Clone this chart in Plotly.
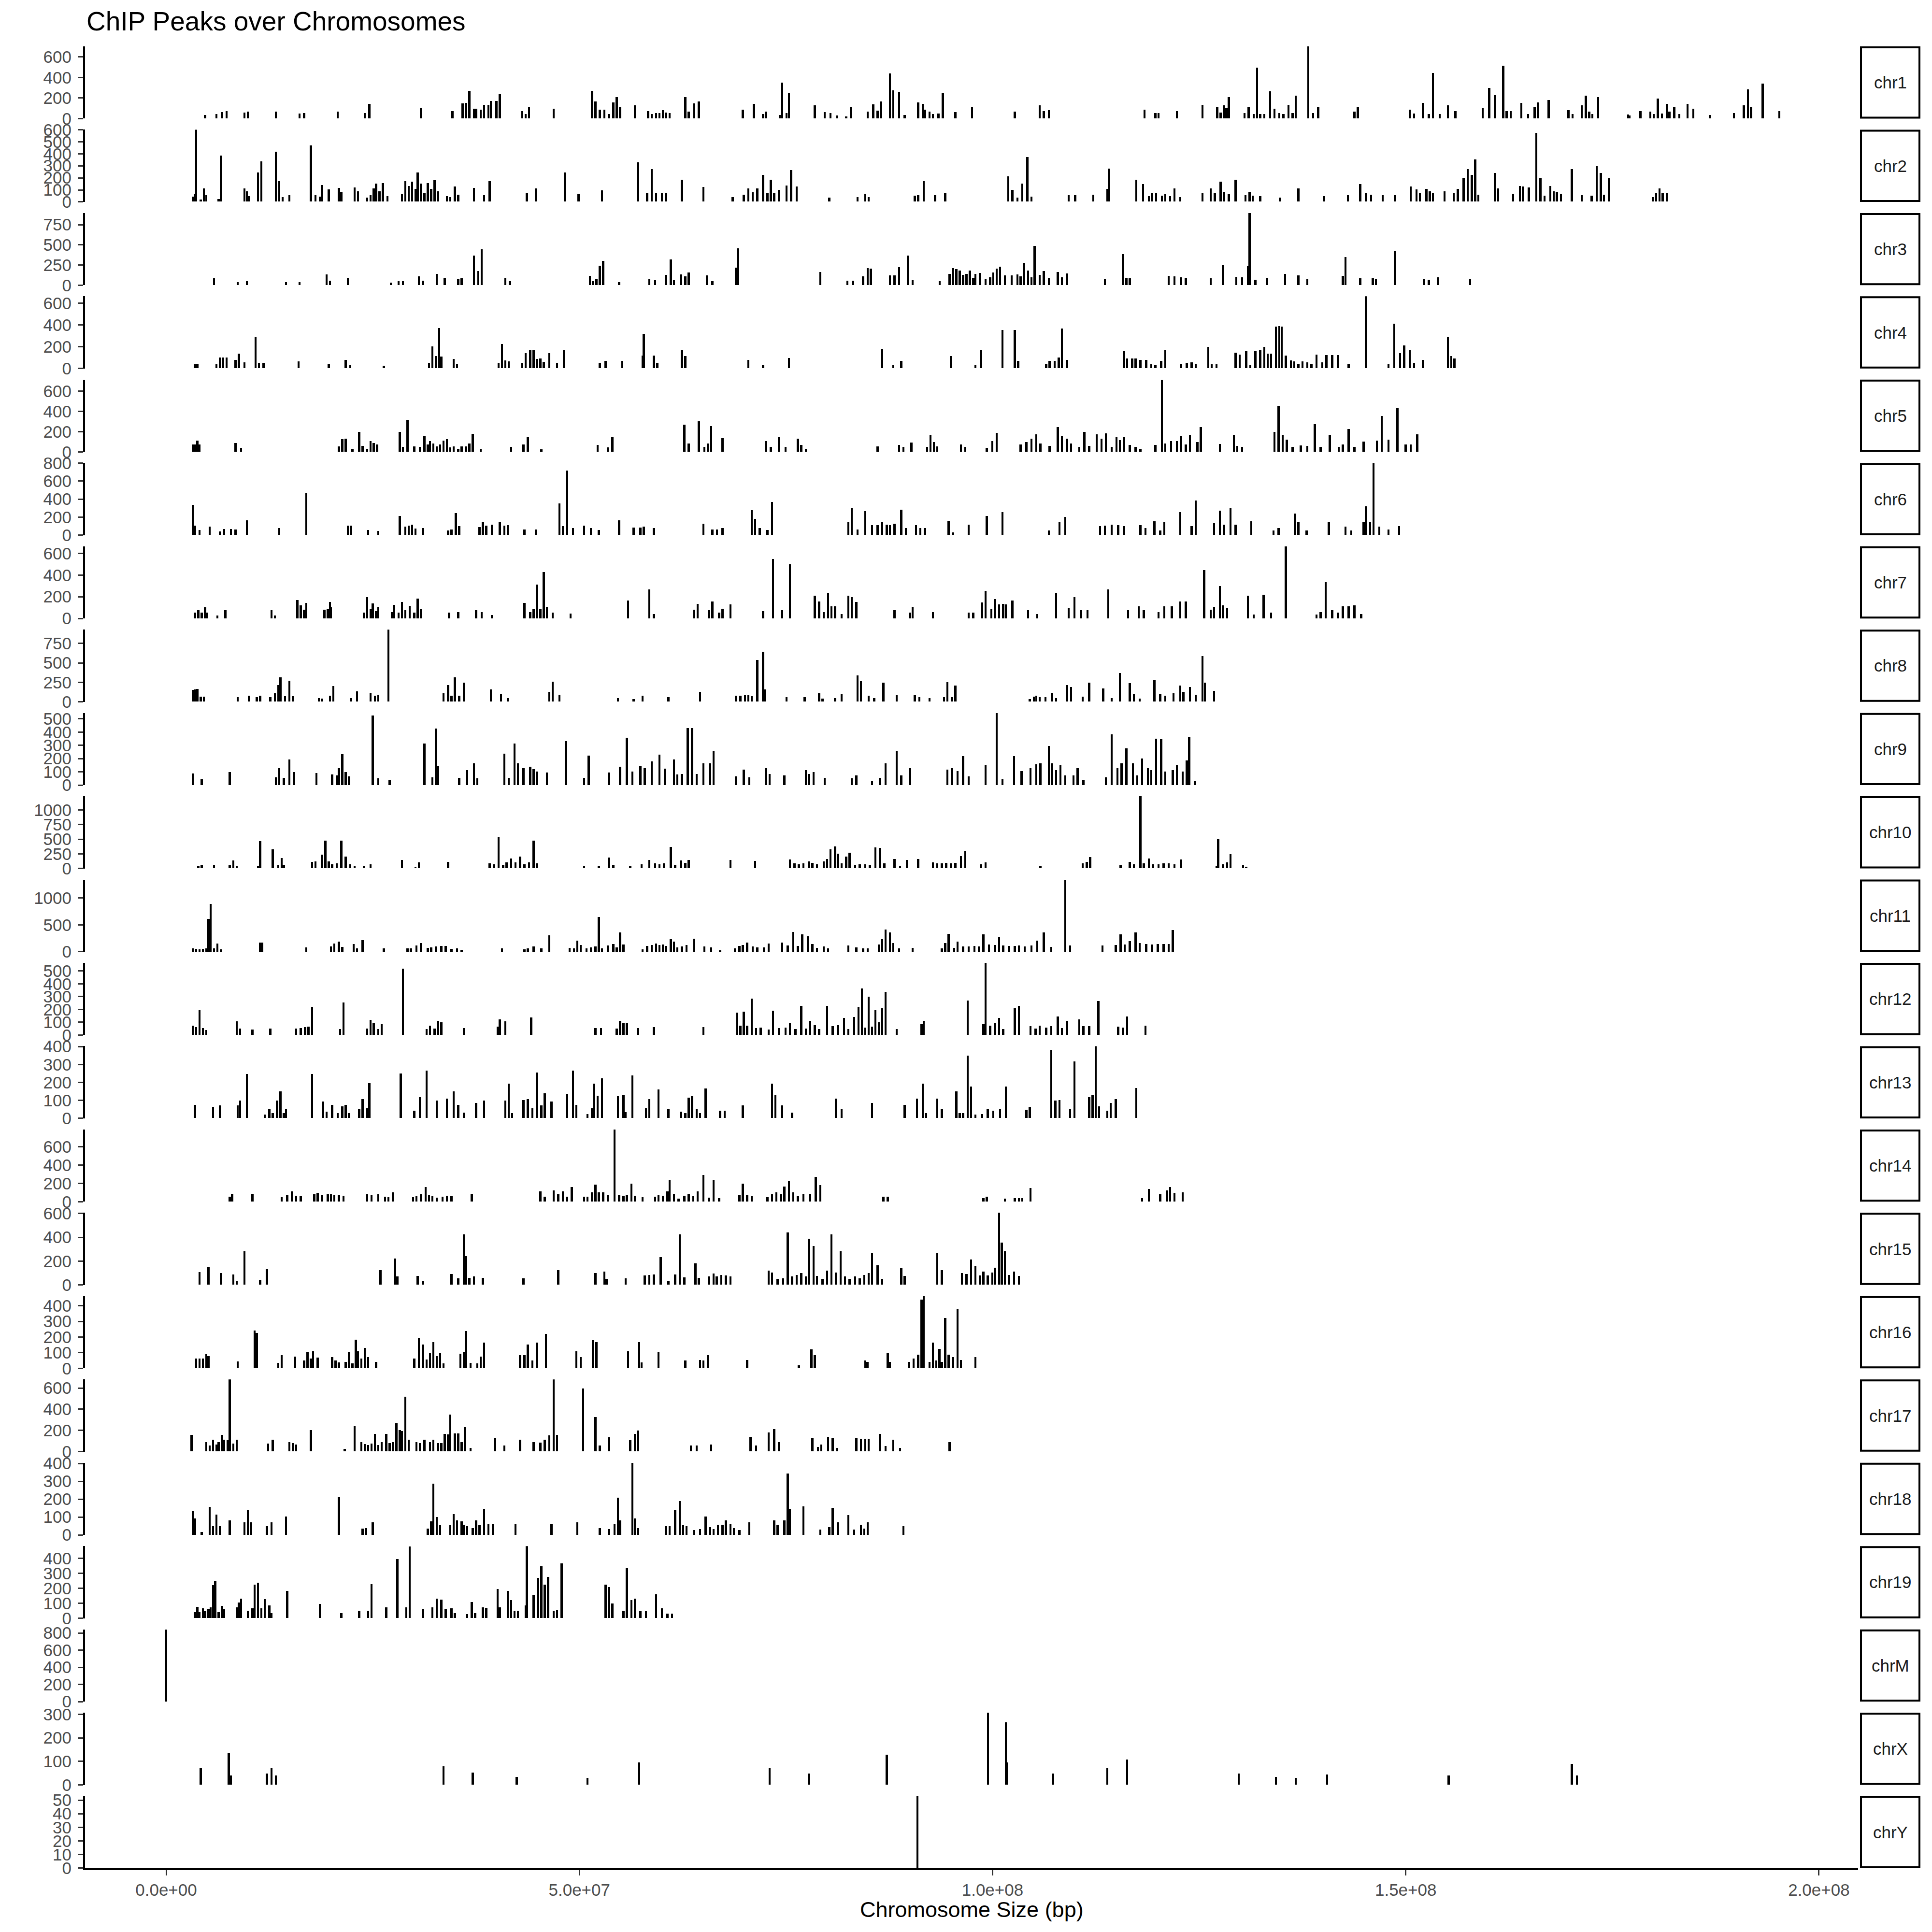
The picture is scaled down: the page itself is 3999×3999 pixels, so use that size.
import plotly.graph_objects as go

# ---------------- data (positions in Mb, peak score) ----------------
chromosomes = ["chr1", "chr2", "chr3", "chr4", "chr5", "chr6", "chr7", "chr8", "chr9", "chr10",
               "chr11", "chr12", "chr13", "chr14", "chr15", "chr16", "chr17", "chr18", "chr19",
               "chrM", "chrX", "chrY"]
y_tick_steps = [200, 100, 250, 200, 200, 200, 200, 250, 100, 250, 500, 100, 100, 200, 200, 100,
                200, 100, 100, 200, 100, 10]
x_tick_vals = [0, 5e7, 1e8, 1.5e8, 2e8]
x_tick_labels = ["0.0e+00", "5.0e+07", "1.0e+08", "1.5e+08", "2.0e+08"]

chr1_peaks = [(4.71,34),(6.07,44),(6.75,62),(7.30,73),(9.47,58),(9.88,66),(13.28,66),(16.14,47),(16.69,55),(20.77,66),(24.04,52),(24.58,144),(30.84,105),(34.65,75),(35.88,148),(36.29,155),(36.69,270),(37.24,94),(37.51,98),(38.05,86),(38.46,133),(39.01,133),(39.28,170),(39.96,170),(40.37,239),(43.09,75),(43.50,44),(43.91,112),(46.90,98),(51.53,270),(51.94,169),(52.48,86),(53.03,86),(53.57,44),(54.11,156),(54.52,208),(54.93,109),(56.70,130),(58.33,73),(58.74,44),(59.29,55),(59.69,52),(60.10,80),(60.51,58),(60.92,55),(62.82,208),(63.23,67),(63.91,148),(64.46,169),(69.77,87),(71.13,142),(72.22,44),(72.62,66),(74.26,37),(74.53,348),(75.07,52),(75.35,250),(78.48,127),(79.70,62),(80.38,52),(81.20,31),(82.29,23),(82.83,112),(84.88,66),(85.55,139),(86.10,76),(86.51,169),(87.59,440),(88.00,275),(88.68,261),(89.36,34),(91.00,158),(91.54,142),(91.81,86),(92.36,70),(92.77,44),(93.45,50),(93.99,251),(95.49,64),(97.53,109),(102.7,67),(105.7,130),(106.2,75),(106.8,81),(118.4,89),(119.7,55),(120.1,55),(122.3,75),(125.4,133),(127.2,117),(127.6,59),(128.0,127),(128.3,103),(128.6,208),(130.5,52),(131.0,112),(131.6,44),(132.0,497),(132.4,44),(132.9,44),(133.6,267),(134.1,94),(134.7,52),(135.2,44),(135.8,133),(136.3,52),(136.7,222),(138.2,703),(138.8,52),(139.4,114),(143.8,66),(144.2,112),(150.5,87),(151.0,48),(152.1,151),(152.8,44),(153.3,445),(154.1,44),(155.1,127),(156.0,75),(159.3,101),(160.1,297),(160.8,229),(161.8,516),(162.2,73),(162.7,73),(164.0,151),(164.8,44),(165.6,111),(166.0,158),(167.3,179),(169.7,80),(170.2,44),(171.3,127),(171.8,223),(172.2,67),(172.6,44),(173.3,208),(176.9,39),(177.1,31),(178.4,75),(179.6,66),(180.0,44),(180.5,195),(181.0,48),(181.6,145),(181.9,66),(182.5,114),(183.1,44),(184.1,142),(184.8,95),(186.8,33),(189.7,55),(190.9,127),(191.4,286),(191.8,112),(193.2,341),(195.2,73)]

chr2_peaks = [(3.21,40),(3.48,65),(3.62,600),(4.17,19),(4.57,112),(4.85,55),(6.34,21),(6.62,383),(9.47,112),(9.75,85),(10.02,48),(11.11,241),(11.51,334),(13.28,414),(13.69,172),(14.10,36),(14.92,56),(17.50,469),(18.05,56),(18.59,43),(18.86,139),(19.68,102),(20.91,115),(21.18,83),(22.81,118),(23.22,88),(24.31,35),(24.72,55),(25.12,112),(25.40,152),(25.81,85),(26.21,155),(26.76,45),(28.53,67),(28.94,172),(29.34,132),(29.75,166),(30.16,105),(30.43,241),(30.84,152),(31.25,72),(31.66,155),(32.07,105),(32.47,178),(32.88,88),(33.97,48),(34.38,37),(34.92,128),(35.33,59),(37.24,115),(38.46,56),(39.14,172),(43.63,76),(44.72,112),(48.26,241),(49.90,65),(52.75,96),(57.11,327),(58.20,76),(58.74,272),(59.29,72),(59.97,76),(60.51,72),(62.42,184),(65.00,122),(68.54,36),(69.90,59),(70.45,110),(70.99,79),(71.53,112),(72.22,224),(72.76,72),(73.17,182),(73.58,75),(74.12,99),(75.07,136),(75.62,264),(76.30,128),(80.25,32),(83.65,36),(84.60,65),(85.01,39),(90.59,52),(91.00,55),(91.68,172),(93.04,56),(94.27,76),(101.9,212),(102.4,99),(103.0,35),(103.6,152),(104.2,371),(104.7,43),(109.2,56),(110.0,56),(112.2,59),(113.9,108),(114.1,275),(117.4,183),(118.2,148),(118.9,45),(119.3,76),(119.8,76),(120.5,52),(120.9,63),(121.5,45),(122.0,112),(122.7,39),(125.4,75),(126.4,112),(126.9,76),(127.6,168),(128.0,83),(128.6,61),(129.4,183),(130.6,56),(131.1,83),(131.5,52),(132.4,45),(134.8,35),(137.0,112),(140.1,45),(143.0,56),(144.5,146),(145.2,75),(145.8,59),(147.2,56),(148.7,56),(150.6,126),(151.3,104),(151.7,72),(152.5,107),(152.9,85),(153.3,75),(154.7,85),(155.8,75),(156.3,107),(157.0,199),(157.5,272),(158.0,224),(158.4,353),(158.8,59),(160.8,238),(161.2,112),(163.0,65),(163.8,132),(164.2,128),(164.9,120),(165.8,573),(166.3,199),(166.8,52),(167.5,131),(167.9,85),(168.3,83),(168.8,65),(170.1,272),(171.3,56),(172.5,52),(173.1,296),(173.6,240),(174.0,59),(174.6,195),(179.9,37),(180.3,75),(180.7,112),(181.1,75),(181.6,75)]

chr3_peaks = [(5.80,86),(8.66,36),(9.75,50),(14.51,36),(16.14,36),(19.41,137),(19.82,58),(21.99,90),(27.17,30),(28.12,52),(28.66,52),(30.57,109),(31.11,58),(32.75,141),(33.70,90),(35.33,82),(35.74,88),(37.24,370),(37.78,175),(38.19,446),(41.05,93),(41.59,52),(51.26,115),(51.66,52),(52.07,78),(52.48,240),(52.89,300),(54.80,38),(58.47,82),(59.15,62),(60.51,131),(61.06,320),(61.46,62),(62.28,137),(62.82,111),(63.23,161),(65.41,121),(66.09,52),(68.95,217),(69.22,456),(79.16,165),(82.42,54),(83.11,54),(84.33,109),(84.88,210),(85.28,205),(87.59,125),(88.14,121),(88.68,224),(89.77,370),(90.32,62),(93.59,50),(94.81,141),(95.22,210),(95.63,200),(96.03,181),(96.44,131),(96.85,141),(97.26,181),(97.67,91),(97.94,141),(98.48,151),(99.16,82),(99.71,97),(100.1,161),(100.5,205),(100.9,229),(101.5,125),(102.3,121),(103.0,135),(103.4,113),(103.8,276),(104.3,181),(104.7,101),(105.1,485),(105.7,129),(106.2,177),(106.8,91),(107.9,165),(108.4,101),(109.0,145),(113.6,78),(115.8,384),(116.2,91),(116.6,85),(121.3,117),(122.0,109),(122.8,97),(123.4,93),(126.4,89),(127.9,257),(129.5,105),(130.2,101),(130.9,237),(131.1,895),(131.8,66),(133.2,91),(135.4,141),(137.0,121),(138.1,72),(142.4,117),(142.7,350),(144.5,89),(146.0,89),(146.4,78),(148.7,428),(152.2,82),(152.8,70),(153.9,101),(157.8,78)]

chr4_peaks = [(3.48,39),(3.76,44),(6.07,37),(6.48,101),(6.89,101),(7.30,101),(8.38,76),(8.79,135),(9.47,56),(10.83,289),(11.24,53),(11.79,53),(16.01,64),(19.68,41),(21.72,76),(22.27,33),(26.35,24),(31.79,53),(32.20,204),(32.61,113),(33.02,370),(33.29,108),(34.79,86),(35.20,41),(40.23,53),(40.64,224),(41.05,71),(41.46,64),(43.09,53),(43.50,141),(44.04,167),(44.45,167),(44.86,86),(45.27,89),(45.68,59),(46.36,141),(47.31,53),(48.13,167),(52.48,53),(53.16,68),(55.20,67),(57.65,116),(57.79,319),(59.01,116),(59.42,53),(62.42,167),(62.82,113),(70.45,76),(72.22,34),(75.35,96),(86.64,179),(88.00,31),(88.96,68),(94.94,111),(97.94,30),(98.62,172),(101.2,354),(102.7,354),(103.1,67),(106.5,41),(106.9,67),(107.5,67),(108.0,101),(108.4,367),(109.0,76),(115.9,160),(116.3,89),(116.9,89),(117.3,89),(117.9,76),(118.6,76),(119.2,39),(119.7,28),(120.4,68),(120.9,170),(122.8,41),(123.5,53),(124.1,56),(124.6,41),(126.1,197),(126.5,36),(127.1,39),(129.4,142),(129.9,127),(130.7,157),(131.2,34),(131.8,156),(132.4,167),(132.9,197),(133.3,135),(133.7,135),(134.3,385),(134.7,390),(135.0,385),(135.5,116),(136.1,71),(136.5,64),(137.0,44),(137.5,64),(138.1,56),(138.6,44),(139.2,127),(139.9,56),(140.4,121),(141.1,124),(141.8,121),(143.1,44),(145.2,664),(147.9,44),(148.6,409),(149.3,138),(149.8,212),(150.5,167),(151.0,53),(152.1,76),(155.1,289),(155.5,113),(155.9,89)]

chr5_peaks = [(3.21,76),(3.48,76),(3.76,113),(4.03,76),(8.38,89),(9.07,38),(20.91,54),(21.31,128),(21.72,133),(22.54,33),(23.36,200),(23.76,60),(24.31,29),(24.72,105),(25.12,89),(25.53,76),(28.26,200),(28.66,49),(29.21,319),(30.02,57),(30.70,49),(31.25,155),(31.66,73),(31.93,105),(32.34,81),(32.75,54),(33.15,73),(33.56,113),(33.97,128),(34.38,44),(34.79,57),(35.33,33),(35.74,54),(36.29,57),(36.69,81),(37.10,181),(38.05,33),(41.73,49),(43.23,76),(43.77,143),(45.40,25),(52.21,68),(53.43,44),(53.98,143),(62.69,271),(63.23,81),(64.46,303),(65.14,49),(65.55,81),(65.95,256),(67.31,137),(72.62,108),(73.17,49),(74.12,143),(74.94,49),(76.43,129),(76.84,70),(77.39,33),(86.10,54),(88.68,68),(89.23,49),(90.18,92),(92.09,49),(92.49,169),(92.90,97),(93.31,54),(96.17,76),(96.71,49),(99.30,41),(99.98,108),(100.5,187),(103.4,76),(104.1,97),(104.7,129),(105.3,176),(105.8,81),(106.9,60),(107.9,244),(108.4,155),(109.0,129),(109.5,81),(110.5,49),(111.1,200),(111.7,60),(112.6,173),(113.2,133),(113.7,184),(114.4,49),(115.0,149),(115.4,119),(115.9,143),(116.6,70),(117.3,49),(117.9,33),(119.7,70),(120.5,713),(120.9,81),(121.6,105),(122.3,105),(122.8,155),(123.4,73),(123.9,168),(124.8,97),(125.2,244),(127.5,78),(129.2,168),(129.6,60),(130.2,49),(134.1,200),(134.6,454),(135.1,171),(135.6,121),(136.3,49),(137.3,65),(138.1,60),(139.0,274),(139.7,49),(140.8,168),(141.9,49),(142.4,76),(143.1,228),(143.8,49),(144.9,102),(146.5,113),(147.1,355),(147.9,121),(149.0,435),(150.0,76),(150.6,76),(151.4,176)]

chr6_peaks = [(3.21,334),(3.48,103),(4.03,55),(5.25,91),(6.48,41),(7.02,68),(7.84,68),(8.38,59),(9.75,165),(13.69,80),(16.96,469),(21.99,103),(22.40,103),(24.44,55),(25.67,44),(28.26,213),(28.94,91),(29.34,103),(29.75,116),(30.16,73),(31.11,80),(34.11,50),(34.52,62),(35.06,242),(35.47,98),(37.92,87),(38.33,139),(38.73,103),(39.42,116),(40.37,144),(40.91,103),(41.32,112),(43.36,59),(44.72,59),(47.58,352),(47.99,98),(48.53,713),(49.21,76),(50.58,103),(51.39,76),(52.35,55),(54.80,165),(56.56,85),(57.38,85),(57.79,91),(59.01,76),(65.00,126),(66.09,59),(66.64,59),(67.31,76),(70.85,276),(71.26,180),(71.81,76),(72.76,55),(73.30,365),(82.56,148),(82.97,299),(83.65,59),(84.60,263),(85.42,112),(86.10,112),(86.64,139),(87.19,116),(87.59,108),(88.14,126),(88.96,281),(89.50,76),(90.73,112),(91.27,76),(91.81,76),(94.67,156),(95.22,27),(97.12,116),(99.30,213),(101.2,254),(106.8,50),(108.1,144),(108.8,201),(113.0,98),(113.6,103),(114.4,116),(115.2,112),(115.9,98),(117.9,108),(118.5,76),(119.6,151),(120.3,50),(120.8,144),(122.7,254),(124.1,98),(124.6,381),(126.8,130),(127.5,268),(128.0,116),(128.8,299),(129.4,116),(131.3,151),(134.0,50),(134.6,76),(136.6,240),(137.0,139),(138.0,50),(140.7,142),(142.7,94),(143.4,50),(144.9,139),(145.2,318),(145.7,148),(146.1,800),(146.8,94),(147.9,59),(149.2,98)]

chr7_peaks = [(3.48,55),(3.89,77),(4.30,55),(4.71,104),(4.98,55),(6.21,30),(7.16,77),(12.74,77),(13.15,30),(15.87,172),(16.28,122),(16.69,80),(16.96,144),(19.14,84),(19.55,87),(19.82,153),(19.95,104),(23.90,55),(24.31,197),(24.72,87),(24.99,141),(25.40,70),(25.67,110),(27.30,62),(27.57,126),(28.12,55),(28.53,153),(28.94,77),(29.48,119),(30.02,55),(30.43,185),(30.84,87),(34.24,55),(35.33,62),(37.51,77),(38.19,62),(39.42,33),(43.36,144),(44.04,62),(44.45,87),(44.86,314),(45.27,87),(45.68,430),(46.08,107),(46.76,55),(48.94,47),(55.88,166),(58.47,270),(59.01,40),(63.91,84),(64.32,136),(65.68,77),(66.09,156),(66.91,55),(67.31,89),(68.27,129),(72.22,70),(73.44,548),(74.53,77),(75.48,499),(78.48,210),(79.02,156),(79.57,62),(80.11,237),(80.52,114),(80.93,114),(81.74,44),(82.56,210),(82.97,196),(83.51,153),(88.14,77),(90.04,55),(90.32,110),(92.77,58),(97.12,55),(97.67,55),(98.75,151),(99.16,255),(99.84,92),(100.3,178),(100.8,129),(101.3,136),(101.6,129),(102.4,166),(104.3,77),(105.4,40),(107.7,240),(109.2,99),(109.9,196),(110.7,77),(111.5,77),(114.0,270),(116.4,77),(117.7,114),(118.3,77),(120.1,62),(120.8,114),(121.7,114),(122.7,157),(123.4,157),(125.6,445),(126.4,84),(126.8,107),(127.5,299),(127.9,124),(128.4,99),(130.9,210),(131.6,36),(132.8,221),(133.7,55),(135.5,665),(139.2,36),(139.7,58),(140.3,336),(141.1,77),(141.8,55),(142.4,114),(143.1,114),(143.8,121),(144.6,40)]

chr8_peaks = [(3.21,151),(3.48,161),(3.76,165),(4.17,68),(4.57,68),(8.66,58),(10.02,79),(10.97,58),(11.38,79),(12.60,58),(13.15,110),(13.56,213),(13.83,316),(14.37,74),(14.92,269),(15.33,72),(18.46,47),(18.86,41),(19.82,79),(20.23,202),(22.40,47),(23.08,136),(24.72,114),(25.26,79),(25.67,89),(26.89,928),(33.56,110),(34.11,213),(34.52,79),(34.92,316),(35.47,79),(36.01,244),(39.28,157),(40.51,103),(41.32,47),(46.36,130),(46.76,258),(47.58,89),(54.66,47),(56.56,37),(57.65,79),(60.78,58),(64.59,130),(68.95,79),(69.49,79),(70.04,83),(70.45,83),(70.85,74),(71.53,539),(72.22,643),(72.49,161),(75.07,58),(77.25,58),(79.02,110),(79.43,41),(80.93,47),(81.74,103),(83.65,337),(84.06,265),(85.01,79),(85.69,47),(86.78,244),(88.41,83),(90.59,83),(91.13,58),(92.36,47),(94.13,58),(94.54,254),(95.08,58),(95.49,207),(104.5,37),(105.0,68),(105.3,79),(105.7,58),(106.4,58),(107.2,116),(107.7,47),(109.0,213),(109.5,192),(110.9,68),(111.7,244),(113.4,171),(114.4,47),(115.4,367),(116.6,238),(117.1,99),(117.8,41),(119.6,275),(120.3,99),(120.9,79),(121.9,110),(122.7,207),(123.1,130),(123.9,192),(124.6,89),(125.4,589),(125.7,244),(126.8,141)]

chr9_peaks = [(3.21,89),(4.30,46),(7.70,100),(13.28,61),(13.69,128),(14.24,55),(14.92,195),(15.46,101),(18.18,93),(20.09,83),(20.63,73),(20.91,128),(21.31,235),(21.72,99),(22.13,67),(24.99,528),(25.67,52),(27.03,43),(31.25,316),(32.20,61),(32.61,428),(32.88,146),(35.47,55),(36.42,116),(37.24,164),(37.65,52),(40.91,237),(41.46,55),(42.14,316),(42.55,164),(43.23,128),(44.04,140),(44.45,122),(44.86,104),(46.08,97),(48.40,332),(50.58,55),(51.12,225),(53.57,97),(54.93,140),(55.75,359),(56.43,104),(57.38,146),(57.92,128),(58.74,179),(59.69,231),(60.37,125),(61.46,195),(61.87,82),(62.42,85),(63.10,432),(63.64,432),(64.19,85),(65.00,164),(65.82,164),(66.23,261),(68.95,67),(69.90,118),(70.58,61),(72.62,130),(73.03,85),(74.80,73),(77.39,113),(77.80,85),(78.34,101),(79.70,55),(82.97,52),(83.51,73),(85.42,30),(86.37,55),(87.05,166),(88.41,261),(88.96,73),(90.04,128),(94.54,118),(95.08,128),(95.76,109),(96.44,222),(97.12,67),(99.16,152),(100.5,545),(101.2,45),(102.6,219),(103.5,109),(104.6,128),(105.3,158),(105.8,164),(106.8,298),(107.2,164),(107.7,116),(108.2,152),(108.8,73),(109.8,73),(110.3,128),(111.0,43),(113.7,61),(114.4,383),(115.1,128),(115.6,164),(116.2,280),(117.0,164),(117.5,73),(118.1,201),(118.8,128),(119.2,116),(119.8,353),(120.4,347),(120.9,103),(121.8,116),(122.3,152),(123.0,103),(123.5,188),(123.8,365),(124.5,30)]

chr10_peaks = [(3.89,47),(4.30,61),(5.80,61),(7.70,55),(8.11,138),(8.52,47),(11.11,47),(11.38,470),(12.88,323),(13.56,61),(13.96,177),(14.24,61),(17.64,108),(18.05,116),(18.86,235),(19.27,475),(19.68,116),(20.09,66),(20.63,88),(21.18,475),(21.72,199),(22.27,74),(22.81,39),(23.90,39),(24.72,69),(28.53,143),(30.16,19),(30.57,102),(34.11,108),(39.14,88),(39.69,66),(40.23,530),(40.78,61),(41.18,102),(41.73,171),(42.27,102),(42.82,204),(43.36,74),(43.91,102),(44.45,475),(44.86,88),(50.58,39),(52.35,33),(53.57,185),(54.11,61),(56.16,47),(57.52,74),(58.47,143),(59.15,83),(59.69,74),(60.24,88),(61.06,365),(61.60,61),(62.28,138),(62.82,94),(63.23,143),(68.27,143),(71.26,130),(75.48,149),(76.03,88),(76.57,74),(77.12,88),(77.80,116),(78.20,94),(78.75,74),(79.57,116),(79.97,157),(80.38,323),(80.93,378),(81.33,254),(81.74,88),(82.29,199),(82.69,268),(83.38,61),(83.92,74),(84.60,66),(85.15,61),(85.83,359),(86.37,351),(86.91,88),(88.14,157),(88.82,47),(89.64,144),(91.00,157),(92.77,102),(93.31,88),(93.86,88),(94.40,94),(94.94,88),(95.49,94),(96.17,213),(96.71,296),(98.62,66),(99.16,102),(105.8,33),(110.9,88),(111.4,110),(111.8,191),(115.5,55),(116.6,110),(117.1,74),(117.9,1235),(118.3,88),(118.9,171),(119.4,74),(120.1,66),(120.7,88),(121.3,88),(122.0,74),(122.8,149),(127.1,33),(127.3,497),(127.9,74),(128.4,102),(128.8,240),(130.3,55),(130.7,28)]

chr11_peaks = [(3.21,69),(3.62,57),(4.03,48),(4.44,57),(4.85,69),(5.12,617),(5.39,892),(5.80,63),(6.21,153),(6.62,48),(11.38,177),(11.65,177),(16.96,87),(19.95,99),(20.36,153),(20.91,189),(21.31,93),(22.68,147),(23.08,69),(23.76,219),(26.35,69),(29.21,63),(29.62,69),(30.30,123),(30.84,165),(31.66,78),(32.07,87),(32.61,99),(33.29,108),(33.83,108),(34.52,57),(35.20,63),(35.74,39),(40.64,69),(43.36,48),(43.77,63),(44.45,99),(45.40,69),(46.36,308),(48.81,78),(49.35,69),(49.76,207),(50.17,129),(50.85,63),(51.39,87),(51.94,99),(52.35,647),(52.75,69),(53.43,117),(54.11,147),(54.52,87),(54.93,362),(55.34,138),(57.65,48),(58.20,108),(58.74,129),(59.29,159),(59.69,129),(60.10,138),(60.51,108),(61.06,237),(61.46,189),(61.87,87),(62.42,99),(62.96,129),(63.91,249),(65.14,99),(65.95,87),(67.04,33),(68.81,69),(69.36,108),(69.77,129),(70.31,177),(70.99,99),(71.53,87),(72.35,87),(72.89,159),(74.53,177),(75.21,117),(75.89,371),(76.43,108),(76.98,329),(77.66,290),(78.20,147),(78.75,78),(79.57,99),(80.11,69),(82.56,123),(83.51,87),(84.33,63),(84.88,69),(86.23,138),(86.64,237),(87.05,416),(87.59,362),(88.00,168),(88.68,69),(90.32,78),(93.86,69),(94.27,168),(94.67,338),(95.35,78),(95.76,189),(96.44,99),(97.12,99),(97.80,108),(98.35,99),(98.89,329),(99.57,138),(100.3,129),(100.8,272),(101.3,117),(102.0,108),(102.7,108),(103.2,123),(103.9,99),(104.7,123),(105.4,213),(106.2,362),(107.1,93),(108.8,1341),(109.4,123),(113.3,117),(114.9,129),(115.5,329),(116.0,138),(116.6,198),(117.3,362),(117.8,168),(118.6,147),(119.3,138),(120.0,147),(120.7,147),(121.3,147),(121.8,407)]

chr12_peaks = [(3.21,74),(3.62,61),(4.03,195),(4.44,53),(4.85,40),(8.52,106),(8.93,49),(10.43,43),(12.60,50),(15.73,49),(16.28,55),(16.82,61),(17.23,65),(17.64,219),(21.04,46),(21.45,253),(24.31,49),(24.72,118),(25.12,96),(25.67,46),(26.08,84),(28.66,516),(31.52,46),(31.93,74),(32.47,49),(32.88,112),(33.29,100),(36.01,53),(40.10,65),(40.37,122),(41.05,106),(44.18,138),(51.94,53),(52.62,53),(54.52,49),(54.93,112),(55.34,96),(55.75,96),(57.11,53),(59.01,61),(65.00,61),(69.09,174),(69.49,74),(69.90,182),(70.31,74),(70.85,285),(71.40,53),(71.94,59),(72.89,44),(73.44,190),(74.12,56),(74.94,59),(75.48,96),(76.16,46),(76.84,226),(77.39,49),(77.93,112),(78.48,78),(79.02,46),(79.97,226),(80.65,71),(81.33,78),(82.01,134),(82.56,46),(83.24,141),(83.78,222),(84.19,363),(84.60,59),(85.01,301),(85.42,65),(85.83,195),(86.23,99),(86.64,210),(87.05,338),(88.41,46),(91.41,84),(91.68,112),(96.98,268),(98.89,84),(99.16,563),(99.71,74),(100.3,96),(100.8,134),(101.3,46),(102.7,210),(103.2,226),(104.6,71),(105.2,49),(105.7,74),(106.5,59),(107.1,71),(107.9,146),(108.4,53),(109.0,112),(110.5,122),(111.0,71),(111.7,71),(112.8,266),(115.2,65),(115.8,59),(116.3,146),(118.5,74)]

chr13_peaks = [(3.48,74),(5.66,63),(6.48,72),(8.66,72),(8.93,98),(9.75,246),(11.92,20),(12.47,51),(12.88,29),(13.42,97),(13.83,150),(14.24,29),(14.51,51),(17.64,246),(19.00,92),(19.41,36),(20.09,74),(20.77,29),(21.31,65),(21.72,74),(22.13,29),(23.36,51),(23.76,106),(24.31,54),(24.58,195),(28.39,248),(30.02,42),(30.70,117),(31.52,266),(32.75,98),(33.97,109),(34.79,150),(35.33,74),(36.01,30),(37.51,85),(38.46,98),(41.05,98),(41.46,192),(41.87,29),(43.23,101),(43.77,105),(44.32,54),(44.86,253),(45.40,72),(45.81,139),(46.63,94),(48.53,137),(49.21,264),(49.62,74),(50.98,24),(51.53,55),(51.80,193),(52.21,125),(52.75,221),(54.66,123),(55.34,130),(55.61,33),(56.43,237),(58.06,54),(58.47,107),(59.56,159),(60.78,51),(62.28,36),(62.82,29),(63.23,114),(63.64,123),(64.19,51),(64.59,29),(65.27,164),(67.04,42),(67.59,42),(69.77,71),(73.30,193),(73.71,129),(74.53,72),(75.75,30),(81.06,109),(81.74,51),(85.42,84),(89.36,74),(90.86,109),(91.54,193),(91.95,29),(93.31,109),(93.86,51),(95.62,150),(96.03,29),(96.44,29),(96.98,347),(97.39,177),(97.94,20),(98.75,24),(99.43,51),(100.1,42),(100.9,51),(101.6,177),(104.1,47),(104.5,63),(107.1,380),(107.6,98),(108.1,101),(109.4,51),(109.9,317),(111.7,117),(112.1,131),(112.5,402),(112.9,66),(113.9,42),(114.3,84),(114.9,106),(117.4,167)]

chr14_peaks = [(7.70,56),(7.98,88),(10.43,88),(13.96,49),(14.64,74),(15.19,114),(15.73,67),(16.28,61),(17.91,79),(18.32,96),(18.86,70),(19.55,79),(19.95,79),(20.36,70),(20.91,70),(21.45,67),(24.31,79),(24.85,70),(25.67,84),(26.49,53),(26.89,49),(27.44,102),(29.89,49),(30.30,61),(30.84,79),(31.39,158),(31.79,70),(32.20,61),(32.75,44),(33.43,56),(33.97,67),(34.52,61),(36.97,88),(45.27,114),(45.81,53),(46.90,123),(47.45,79),(47.99,114),(48.53,53),(49.08,161),(50.58,56),(50.98,56),(51.53,105),(51.94,189),(52.35,105),(52.89,105),(53.43,70),(54.25,788),(54.80,74),(55.34,67),(55.75,70),(56.29,196),(56.70,67),(57.65,49),(59.15,53),(59.56,74),(60.10,67),(60.65,114),(60.92,242),(61.46,88),(62.01,32),(62.69,67),(63.23,88),(63.78,61),(64.32,114),(65.00,295),(65.68,44),(66.23,242),(66.91,39),(69.36,70),(69.77,196),(70.31,70),(70.85,61),(72.76,49),(73.30,84),(73.85,105),(74.39,79),(74.80,167),(75.35,224),(75.89,102),(76.43,61),(77.12,88),(77.93,88),(78.61,272),(79.16,184),(86.78,56),(87.32,56),(98.89,39),(99.30,53),(101.5,35),(102.7,39),(103.2,39),(103.6,39),(104.6,149),(118.1,39),(118.9,140),(120.3,79),(121.1,126),(121.5,161),(122.0,96),(123.0,105)]

chr15_peaks = [(4.03,107),(5.12,151),(6.62,100),(8.11,86),(8.52,34),(9.47,282),(11.38,43),(12.20,130),(25.94,124),(27.71,221),(27.98,70),(30.43,74),(31.11,34),(34.52,91),(35.33,54),(36.01,424),(36.29,239),(36.69,57),(37.24,70),(38.33,57),(43.23,54),(47.45,124),(51.94,97),(53.03,110),(53.30,50),(55.61,53),(57.92,77),(58.47,84),(59.01,86),(59.83,232),(60.78,36),(61.60,86),(62.14,421),(62.69,64),(64.05,178),(64.46,57),(65.68,70),(66.23,95),(66.63,70),(67.18,84),(67.72,77),(68.27,70),(72.90,118),(73.30,104),(73.98,50),(74.66,53),(75.21,441),(75.75,70),(76.30,84),(76.84,97),(77.39,70),(77.80,385),(78.34,327),(78.75,74),(79.43,50),(79.97,118),(80.52,421),(81.06,104),(81.61,280),(82.15,70),(82.70,50),(83.38,70),(83.92,53),(84.47,84),(85.01,97),(85.42,263),(86.10,164),(86.64,50),(88.96,138),(89.36,74),(93.31,263),(93.86,124),(96.30,97),(96.85,91),(97.39,212),(97.94,154),(98.48,77),(98.89,111),(99.43,77),(99.98,104),(100.3,145),(100.8,605),(101.1,355),(101.5,282),(102.0,84),(102.6,111),(103.2,73)]

chr16_peaks = [(3.62,62),(4.03,62),(4.44,64),(4.85,90),(5.12,80),(8.66,44),(10.70,241),(10.97,228),(13.56,36),(13.96,84),(15.60,75),(16.69,51),(17.09,103),(17.50,62),(17.78,111),(18.32,70),(20.09,74),(20.50,51),(20.91,39),(21.72,41),(22.13,108),(22.54,31),(22.95,183),(23.22,111),(23.63,62),(24.04,131),(24.44,72),(25.40,41),(30.02,62),(30.57,195),(31.11,152),(31.52,56),(31.93,98),(32.34,169),(32.75,80),(33.15,98),(33.56,31),(35.60,94),(36.01,108),(36.29,238),(36.83,36),(37.65,31),(38.05,77),(38.46,166),(42.82,84),(43.36,84),(43.77,152),(44.32,51),(44.86,166),(45.95,221),(49.62,111),(50.17,74),(51.66,180),(52.07,169),(55.88,111),(57.24,169),(57.52,39),(59.56,108),(62.82,51),(64.59,53),(65.00,51),(65.55,84),(70.31,53),(76.57,21),(78.07,121),(78.48,84),(84.60,51),(84.87,41),(87.32,98),(87.59,43),(89.91,41),(90.45,62),(90.99,87),(91.41,441),(91.68,462),(92.36,41),(92.77,166),(93.18,51),(93.58,125),(93.86,41),(94.26,323),(94.67,87),(95.22,72),(95.76,382),(96.17,53),(97.94,72)]

chr17_peaks = [(3.08,157),(4.85,88),(5.25,55),(5.66,111),(6.07,65),(6.34,88),(6.75,157),(7.02,111),(7.43,106),(7.70,681),(8.11,73),(8.52,111),(12.33,73),(12.88,111),(14.92,88),(15.33,81),(15.73,65),(17.50,202),(21.59,24),(22.81,240),(23.63,88),(24.04,70),(24.44,61),(24.85,73),(25.26,164),(25.67,61),(26.08,88),(26.62,164),(27.03,81),(27.44,88),(27.85,267),(28.26,202),(28.53,192),(28.94,517),(29.34,111),(30.30,88),(30.70,81),(31.25,111),(31.93,88),(32.34,111),(32.88,81),(33.29,81),(33.70,164),(34.11,161),(34.38,350),(34.92,172),(35.33,172),(35.74,88),(36.15,228),(36.83,35),(39.82,126),(40.91,55),(42.82,111),(44.45,88),(45.27,85),(45.81,111),(46.36,152),(46.90,681),(47.31,157),(50.44,593),(51.94,324),(52.48,55),(53.57,134),(56.16,106),(56.70,167),(57.11,198),(63.50,55),(64.19,55),(65.95,65),(70.72,141),(71.40,55),(72.89,179),(73.58,210),(74.12,88),(78.20,126),(78.88,43),(79.29,65),(80.11,138),(80.65,126),(81.19,35),(83.51,126),(84.06,119),(84.60,122),(85.01,119),(86.37,167),(87.05,50),(88.00,111),(88.82,35),(94.81,88)]

chr18_peaks = [(3.21,135),(3.48,94),(4.30,18),(5.25,159),(5.66,49),(6.07,114),(6.48,49),(7.70,83),(9.47,72),(9.88,139),(10.29,72),(12.20,49),(12.74,72),(14.51,105),(20.91,213),(23.76,36),(24.17,40),(24.99,72),(31.66,36),(32.07,78),(32.34,287),(32.75,101),(33.15,54),(34.38,54),(34.79,117),(35.20,81),(35.74,76),(36.01,58),(36.42,49),(37.10,39),(37.51,81),(37.92,54),(38.46,148),(39.01,60),(39.55,60),(42.27,60),(46.63,63),(49.76,72),(52.48,39),(53.57,33),(54.25,60),(54.66,209),(54.93,83),(56.43,404),(56.70,94),(57.11,39),(60.51,49),(60.92,49),(61.60,139),(62.14,191),(62.55,54),(62.96,51),(63.91,27),(64.59,33),(65.27,103),(65.82,45),(66.23,33),(66.77,58),(67.32,58),(67.72,83),(68.27,63),(68.68,40),(69.36,29),(70.58,72),(73.58,81),(73.99,58),(74.80,81),(75.21,344),(75.48,148),(77.12,161),(79.16,31),(80.24,45),(80.65,152),(81.33,72),(82.56,112),(83.24,31),(84.06,58),(84.47,36),(84.88,72),(89.23,51)]

chr19_peaks = [(3.48,40),(3.76,75),(4.03,40),(4.44,65),(4.71,46),(5.12,62),(5.39,73),(5.66,220),(5.93,250),(6.34,40),(6.75,81),(7.02,59),(8.52,73),(8.79,105),(9.07,129),(9.88,51),(10.43,67),(10.70,222),(11.11,236),(11.51,67),(11.92,127),(12.47,84),(12.74,33),(14.65,181),(18.59,95),(21.18,35),(23.36,51),(24.44,51),(24.85,228),(26.62,73),(27.98,394),(29.07,73),(29.48,477),(31.11,62),(32.20,73),(32.75,129),(33.29,124),(33.83,62),(34.52,65),(34.92,35),(36.42,26),(36.97,108),(37.38,35),(38.33,73),(38.73,70),(40.10,195),(40.37,73),(41.32,181),(41.73,119),(42.14,51),(42.55,51),(43.50,84),(43.63,481),(44.45,155),(44.99,269),(45.40,347),(45.81,222),(46.22,276),(46.90,51),(47.31,57),(47.85,364),(53.16,222),(53.57,207),(53.98,97),(55.34,51),(55.75,334),(56.29,122),(56.70,131),(57.38,46),(58.06,48),(59.29,160),(59.97,65),(60.65,29),(61.20,32)]

chrM_peaks = [(0.008,842)]

chrX_peaks = [(4.17,71),(7.57,134),(7.84,40),(12.20,49),(12.74,71),(13.28,40),(33.56,78),(37.10,52),(42.41,33),(50.98,30),(57.24,95),(73.03,70),(77.80,49),(87.19,128),(99.44,307),(101.6,266),(101.7,96),(107.3,49),(113.9,70),(116.3,108),(129.8,49),(134.3,33),(136.7,30),(140.5,45),(155.2,40),(170.1,89),(170.7,40)]

chrY_peaks = [(90.9,53)]

peak_lists = [chr1_peaks, chr2_peaks, chr3_peaks, chr4_peaks, chr5_peaks, chr6_peaks, chr7_peaks,
              chr8_peaks, chr9_peaks, chr10_peaks, chr11_peaks, chr12_peaks, chr13_peaks, chr14_peaks,
              chr15_peaks, chr16_peaks, chr17_peaks, chr18_peaks, chr19_peaks, chrM_peaks,
              chrX_peaks, chrY_peaks]

# ---------------- layout geometry (pixels of the 3999x3999 canvas) ----------------
W = H = 3999
PL, PR, PT, PB = 176, 3846, 96, 3867
N = len(chromosomes)
GAP = 23
PH = (PB - PT - GAP * (N - 1)) / N
SPAN_H = PB - PT
SPAN_W = PR - PL


def fy(px):
    return 1 - (px - PT) / SPAN_H


def fx(px):
    return (px - PL) / SPAN_W


def clamp(v):
    return min(1.0, max(0.0, v))


X_RANGE = [-9.822e6, 204.74e6]
BAR_W = 2.6e5
FONT = "Liberation Sans, Arial, sans-serif"

fig = go.Figure()
layout = {}
shapes = []
annotations = []

for i, (name, peaks, step) in enumerate(zip(chromosomes, peak_lists, y_tick_steps)):
    k = i + 1
    xa = "x" if k == 1 else f"x{k}"
    ya = "y" if k == 1 else f"y{k}"
    xs = [p[0] * 1e6 for p in peaks]
    ys = [p[1] for p in peaks]
    fig.add_trace(go.Bar(x=xs, y=ys, width=BAR_W,
                         marker=dict(color="black", line=dict(width=0)),
                         xaxis=xa, yaxis=ya, showlegend=False, hoverinfo="skip"))
    top = PT + i * (PH + GAP)
    bot = top + PH
    last = (k == N)
    layout["xaxis" if k == 1 else f"xaxis{k}"] = dict(
        domain=[0, 1], anchor=ya, range=X_RANGE, showgrid=False, zeroline=False,
        showline=last, linecolor="black", linewidth=4,
        ticks="outside" if last else "", ticklen=11, tickwidth=3, tickcolor="#333333",
        showticklabels=last, tickmode="array", tickvals=x_tick_vals, ticktext=x_tick_labels,
        tickfont=dict(size=35, color="#4D4D4D", family=FONT))
    layout["yaxis" if k == 1 else f"yaxis{k}"] = dict(
        domain=[clamp(fy(bot)), clamp(fy(top))], anchor=xa, range=[0, max(ys)], showgrid=False,
        zeroline=False, showline=True, linecolor="black", linewidth=4,
        ticks="outside", ticklen=11, tickwidth=3, tickcolor="#333333",
        tickmode="linear", tick0=0, dtick=step, ticklabelstandoff=6,
        tickfont=dict(size=35, color="#4D4D4D", family=FONT))
    # facet strip on the right
    shapes.append(dict(type="rect", xref="paper", yref="paper",
                       x0=fx(3852), x1=fx(3973), y0=fy(bot - 2), y1=fy(top + 2),
                       line=dict(color="black", width=4), fillcolor="white", layer="above"))
    annotations.append(dict(text=name, xref="paper", yref="paper", x=fx(3912.5),
                            y=fy((top + bot) / 2), xanchor="center", yanchor="middle",
                            showarrow=False, font=dict(size=35, color="#1A1A1A", family=FONT)))

annotations.append(dict(text="ChIP Peaks over Chromosomes", xref="paper", yref="paper",
                        x=fx(177), y=fy(44), xanchor="left", yanchor="middle", showarrow=False,
                        font=dict(size=55, color="black", family=FONT)))
annotations.append(dict(text="Chromosome Size (bp)", xref="paper", yref="paper",
                        x=0.5, y=fy(3952), xanchor="center", yanchor="middle", showarrow=False,
                        font=dict(size=45, color="black", family=FONT)))

fig.update_layout(**layout)
fig.update_layout(width=W, height=H, margin=dict(l=PL, r=W - PR, t=PT, b=H - PB),
                  paper_bgcolor="white", plot_bgcolor="white", shapes=shapes,
                  annotations=annotations, bargap=0, showlegend=False,
                  font=dict(family=FONT))

fig.write_html("out.html")
